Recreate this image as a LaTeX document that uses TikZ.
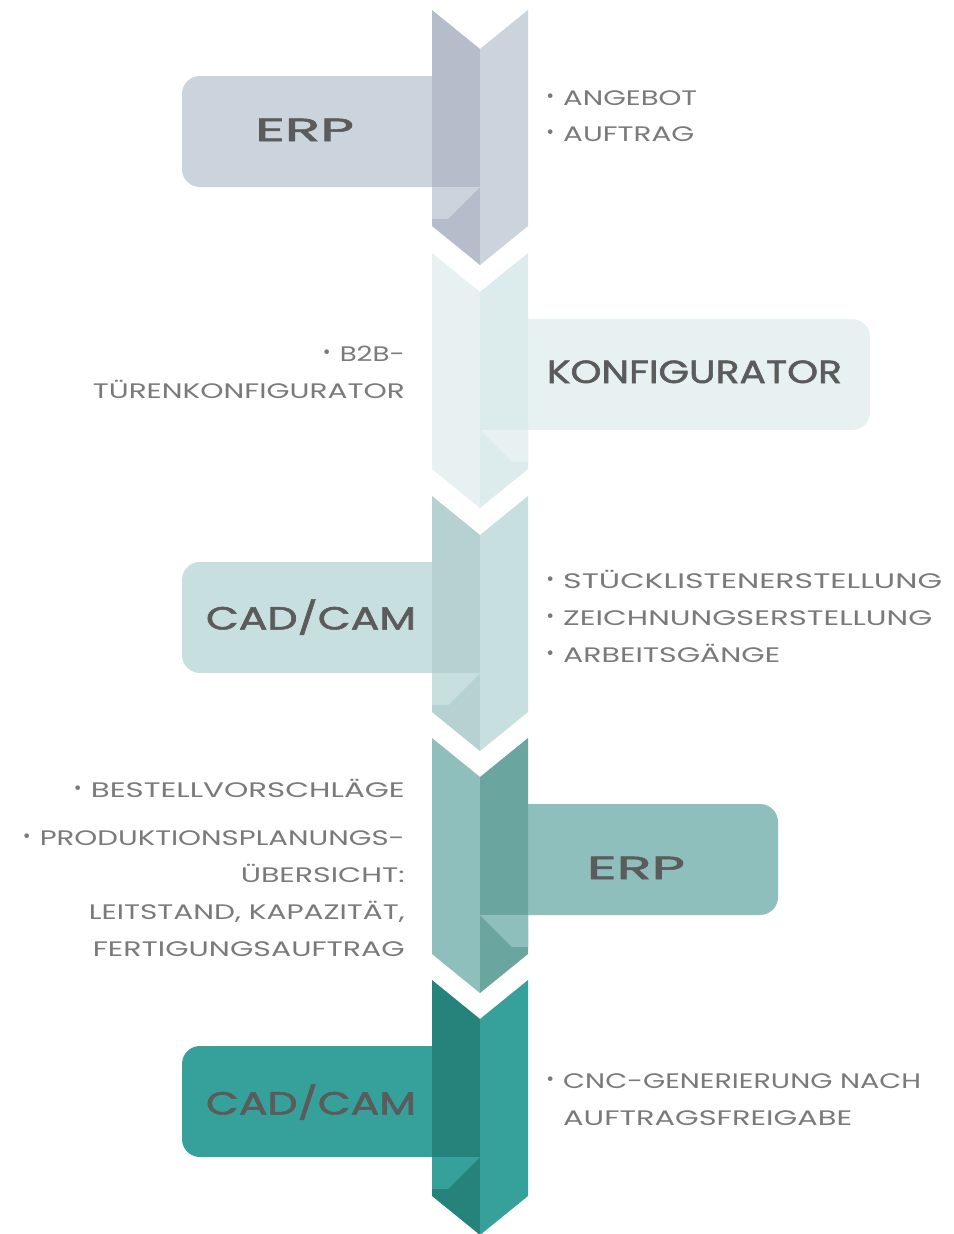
\documentclass[tikz,border=0pt]{standalone}
\usepackage{fontspec}
\usepackage{graphicx}
\setmainfont{Poppins}
\newfontfamily\titlefont{Poppins}[FakeBold=1.6]
\definecolor{titlegray}{HTML}{5B5B5B}
\definecolor{itemgray}{HTML}{7A7A7A}
\definecolor{aBox}{HTML}{CBD3DC}\definecolor{aL}{HTML}{B5BDCB}\definecolor{aR}{HTML}{CBD3DC}
\definecolor{bBox}{HTML}{E8F1F2}\definecolor{bL}{HTML}{E8F1F2}\definecolor{bR}{HTML}{DCEBEB}
\definecolor{cBox}{HTML}{C8DFE0}\definecolor{cL}{HTML}{B5D1D1}\definecolor{cR}{HTML}{C8DFE0}
\definecolor{dBox}{HTML}{8EBFBC}\definecolor{dL}{HTML}{8EBFBC}\definecolor{dR}{HTML}{6BA5A0}
\definecolor{eBox}{HTML}{36A19A}\definecolor{eL}{HTML}{25837C}\definecolor{eR}{HTML}{36A19A}
\newcommand{\fitw}[2]{\resizebox{#1pt}{\height}{#2}}
\newcommand{\itembullet}{\llap{\makebox[26pt]{\raisebox{2.5pt}{\fontsize{19}{19}\selectfont\textbullet}}}}
% chevron: top y, left colour, right colour
\newcommand{\chevronpair}[3]{%
  \fill[#2] (432,#1) -- (480,#1+39) -- (480,#1+255) -- (432,#1+216) -- cycle;
  \fill[#3] (480,#1+39) -- (528,#1) -- (528,#1+216) -- (480,#1+255) -- cycle;}
% panel on the left: top y of chevron, colour
\newcommand{\leftpanel}[2]{%
  \fill[#2, rounded corners=18pt] (182,#1+66) rectangle (480,#1+177);}
\newcommand{\leftfold}[2]{%
  \fill[#2] (432,#1+177) -- (480,#1+177) -- (448,#1+209) -- (432,#1+209) -- cycle;}
% panel on the right: top y, right end, colour
\newcommand{\rightpanel}[3]{%
  \fill[#3, rounded corners=18pt] (480,#1+66) rectangle (#2,#1+177);}
\newcommand{\rightfold}[2]{%
  \fill[#2] (480,#1+177) -- (528,#1+177) -- (528,#1+209) -- (512,#1+209) -- cycle;}
\tikzset{
  item/.style={inner sep=0pt, text=itemgray, font=\fontsize{21}{21}\selectfont},
  title/.style={inner sep=0pt, text=titlegray, font=\titlefont\fontsize{32}{32}\selectfont},
}
\begin{document}
\begin{tikzpicture}[x=1pt, y=-1pt]
\useasboundingbox (0,0) rectangle (953,1234);
\fill[white] (0,0) rectangle (953,1234);
% panels (behind chevrons)
\leftpanel{10}{aBox}
\rightpanel{253}{870}{bBox}
\leftpanel{496}{cBox}
\rightpanel{738}{778}{dBox}
\leftpanel{980}{eBox}
% chevrons
\chevronpair{10}{aL}{aR}
\chevronpair{253}{bL}{bR}
\chevronpair{496}{cL}{cR}
\chevronpair{738}{dL}{dR}
\chevronpair{980}{eL}{eR}
% folds
\leftfold{10}{aBox}
\rightfold{253}{bBox}
\leftfold{496}{cBox}
\rightfold{738}{dBox}
\leftfold{980}{eBox}
% titles
\node[title, anchor=base] (erpA) at (304.5,141) {\fitw{99}{ERP}};
\node[title, anchor=base] (konf) at (694.5,383) {\fitw{295}{KONFIGURATOR}};
\node[title, anchor=base] (cadA) at (311,629.5) {\fitw{210}{CAD/CAM}};
\node[title, anchor=base] (erpB) at (636,879) {\fitw{98}{ERP}};
\node[title, anchor=base] (cadB) at (311,1114.5) {\fitw{210}{CAD/CAM}};
% items right
\node[item, anchor=base west] (r1) at (563,105) {\itembullet\fitw{134}{ANGEBOT}};
\node[item, anchor=base west] (r2) at (563,141) {\itembullet\fitw{131}{AUFTRAG}};
\node[item, anchor=base west] (r3) at (563,588) {\itembullet\fitw{379}{STÜCKLISTENERSTELLUNG}};
\node[item, anchor=base west] (r4) at (563,625) {\itembullet\fitw{369}{ZEICHNUNGSERSTELLUNG}};
\node[item, anchor=base west] (r5) at (563,662) {\itembullet\fitw{217}{ARBEITSGÄNGE}};
\node[item, anchor=base west] (r6) at (563,1088) {\itembullet\fitw{358}{CNC-GENERIERUNG NACH}};
\node[item, anchor=base west] (r7) at (563,1125) {\fitw{289}{AUFTRAGSFREIGABE}};
% items left
\node[item, anchor=base east] (l1) at (405,361) {\itembullet\fitw{65}{B2B-}};
\node[item, anchor=base east] (l2) at (405,398) {\fitw{312}{TÜRENKONFIGURATOR}};
\node[item, anchor=base east] (l3) at (405,797) {\itembullet\fitw{314}{BESTELLVORSCHLÄGE}};
\node[item, anchor=base east] (l4) at (405,845) {\itembullet\fitw{365}{PRODUKTIONSPLANUNGS-}};
\node[item, anchor=base east] (l5) at (405,882) {\fitw{164}{ÜBERSICHT:}};
\node[item, anchor=base east] (l6) at (405,919) {\fitw{316}{LEITSTAND, KAPAZITÄT,}};
\node[item, anchor=base east] (l7) at (405,956) {\fitw{312}{FERTIGUNGSAUFTRAG}};
\end{tikzpicture}
\end{document}
